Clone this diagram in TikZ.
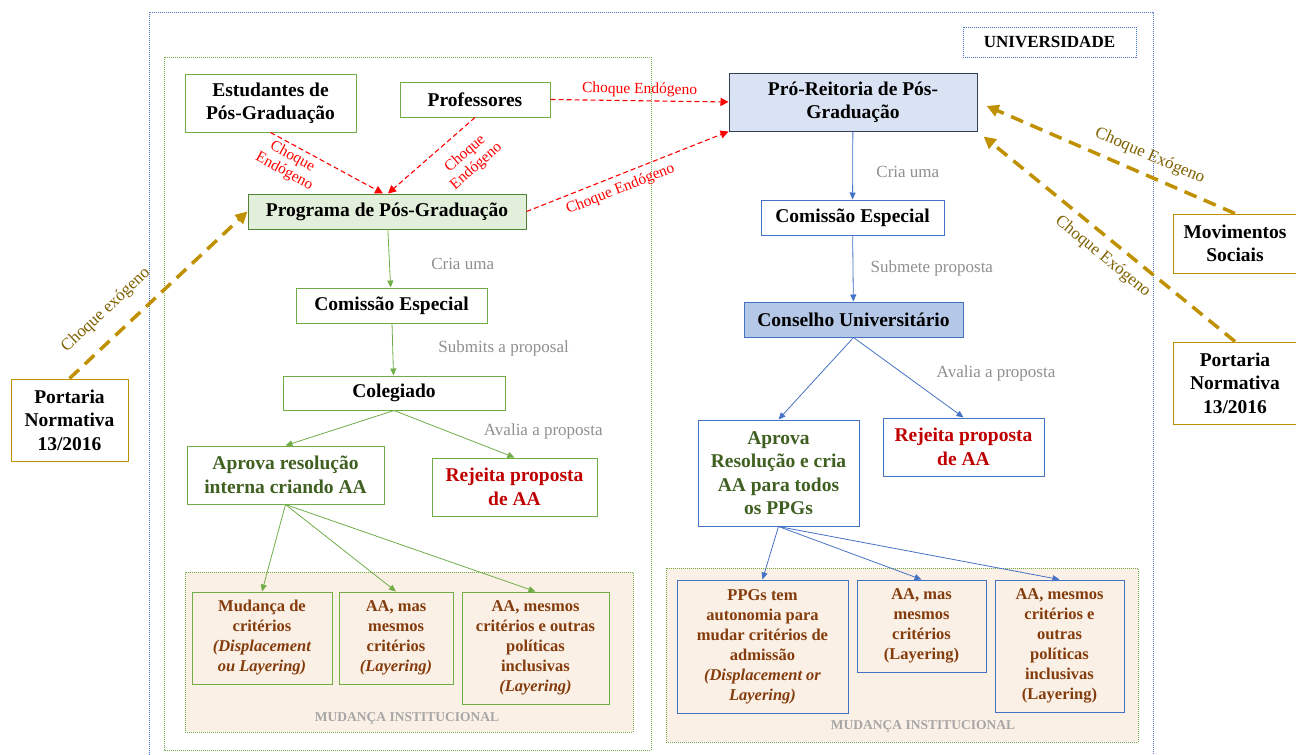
\documentclass[tikz,border=0pt]{standalone}
\usepackage{fontspec}
\setmainfont{Liberation Serif}
\usetikzlibrary{arrows.meta}
\definecolor{boxgreen}{HTML}{70AD47}
\definecolor{darkgreen}{HTML}{548235}
\definecolor{ppgfill}{HTML}{E2EFDA}
\definecolor{boxblue}{HTML}{4472C4}
\definecolor{prpgline}{HTML}{34405A}
\definecolor{prpgfill}{HTML}{DAE3F3}
\definecolor{consfill}{HTML}{B4C7E7}
\definecolor{gold}{HTML}{BF9000}
\definecolor{goldtext}{HTML}{7F6000}
\definecolor{labelgrey}{HTML}{8F8F8F}
\definecolor{aprtext}{HTML}{3F6020}
\definecolor{rejtext}{HTML}{C00000}
\definecolor{subtext}{HTML}{843C0C}
\definecolor{peach}{HTML}{FBF0E6}
\newcommand{\bigbf}{\bfseries\fontsize{19.5}{23.5}\selectfont}
\newcommand{\smallbf}{\bfseries\fontsize{16.5}{20}\selectfont}
\newcommand{\lblfont}{\fontsize{17}{20}\selectfont}
\newcommand{\chqfont}{\fontsize{15.5}{17}\selectfont}
\tikzstyle{gbox} = [draw=boxgreen, line width=1pt, fill=white, align=center, inner sep=0pt, font=\bigbf]
\tikzstyle{bbox} = [gbox, draw=boxblue]
\tikzstyle{ybox} = [gbox, draw=gold]
\tikzstyle{subbox} = [gbox, fill=peach, text=subtext, font=\smallbf]
\tikzstyle{frame} = [draw=boxgreen, dash pattern=on 1pt off 1pt, line width=1pt]
\tikzstyle{endo} = [draw=red, line width=1.1pt, dash pattern=on 5pt off 3pt, -{Triangle[length=8pt,width=8pt]}]
\tikzstyle{exo} = [draw=gold, line width=3.5pt, dash pattern=on 13pt off 8pt, -{Triangle[length=12pt,width=12pt]}]
\tikzstyle{flowg} = [draw=boxgreen, line width=0.8pt, -{Triangle[length=7pt,width=6pt]}]
\tikzstyle{flowb} = [flowg, draw=boxblue]
\tikzstyle{endolbl} = [text=red, font=\chqfont, align=center, sloped]
\tikzstyle{exolbl} = [text=goldtext, font=\lblfont, sloped]
\tikzstyle{steplbl} = [text=labelgrey, font=\lblfont]
\tikzstyle{mudlbl} = [text=black!35, font=\bfseries\fontsize{13.5}{15}\selectfont]

\begin{document}
\begin{tikzpicture}[x=1pt,y=-1pt]
    \useasboundingbox (0,0) rectangle (1296,755);
    % frames
    \draw[draw=boxblue, dash pattern=on 1pt off 1pt, line width=0.8pt] (149,755) -- (149,12) -- (1153,12) -- (1153,755);
    \draw[frame] (164,57) rectangle (651,750);
    \draw[frame, fill=peach] (185,572) rectangle (633,732);
    \draw[frame, fill=peach] (666,568) rectangle (1138,742);
    \draw (407,718) node[mudlbl] (mudL) {MUDANÇA INSTITUCIONAL};
    \draw (923,726) node[mudlbl] (mudR) {MUDANÇA INSTITUCIONAL};
    \draw (1049.5,42) node[draw=boxblue, dash pattern=on 1pt off 1pt, line width=0.8pt, minimum width=173pt, minimum height=30pt, font=\bfseries\fontsize{17}{20}\selectfont] (univ) {UNIVERSIDADE};

    % programa de pos-graduacao
    \draw (270.5,103) node[gbox, minimum width=171pt, minimum height=58pt] (estud) {Estudantes de\\Pós-Graduação};
    \draw (475,99.5) node[gbox, minimum width=150pt, minimum height=35pt] (prof) {Professores};
    \draw (387,211.5) node[gbox, draw=darkgreen, fill=ppgfill, minimum width=278pt, minimum height=35pt] (ppg) {Programa de Pós-Graduação};
    \draw (391.5,305.5) node[gbox, minimum width=191pt, minimum height=35pt] (comL) {Comissão Especial};
    \draw (394,393) node[gbox, minimum width=222pt, minimum height=34pt] (coleg) {Colegiado};
    \draw (285.5,475) node[gbox, text=aprtext, minimum width=197pt, minimum height=58pt] (aprL) {Aprova resolução\\interna criando AA};
    \draw (514.5,487) node[gbox, text=rejtext, minimum width=165pt, minimum height=58pt] (rejL) {Rejeita proposta\\de AA};
    \draw (262,638) node[subbox, minimum width=140pt, minimum height=92pt] (subL1) {Mudança de\\critérios\\\textit{(Displacement}\\\textit{ou Layering)}};
    \draw (396,638) node[subbox, minimum width=114pt, minimum height=92pt] (subL2) {AA, mas\\mesmos\\critérios\\\textit{(Layering)}};
    \draw (535.5,648) node[subbox, minimum width=147pt, minimum height=112pt] (subL3) {AA, mesmos\\critérios e outras\\políticas\\inclusivas\\\textit{(Layering)}};

    % pro-reitoria
    \draw (853,102) node[gbox, draw=prpgline, fill=prpgfill, minimum width=248pt, minimum height=58pt] (prpg) {Pró-Reitoria de Pós-\\Graduação};
    \draw (852.5,217.5) node[bbox, minimum width=183pt, minimum height=35pt] (comR) {Comissão Especial};
    \draw (853.5,319.5) node[bbox, fill=consfill, minimum width=219pt, minimum height=35pt] (cons) {Conselho Universitário};
    \draw (778.5,473) node[bbox, text=aprtext, minimum width=161pt, minimum height=106pt] (aprR) {Aprova\\Resolução e cria\\AA para todos\\os PPGs};
    \draw (963.5,447) node[bbox, text=rejtext, minimum width=161pt, minimum height=58pt] (rejR) {Rejeita proposta\\de AA};
    \draw (762.5,646.5) node[subbox, draw=boxblue, minimum width=171pt, minimum height=133pt] (subR1) {PPGs tem\\autonomia para\\mudar critérios de\\admissão\\\textit{(Displacement or}\\\textit{Layering)}};
    \draw (921.5,626) node[subbox, draw=boxblue, minimum width=129pt, minimum height=92pt] (subR2) {AA, mas\\mesmos\\critérios\\(Layering)};
    \draw (1059.5,646) node[subbox, draw=boxblue, minimum width=129pt, minimum height=132pt] (subR3) {AA, mesmos\\critérios e\\outras\\políticas\\inclusivas\\(Layering)};

    % externos
    \draw (69.5,420) node[ybox, minimum width=117pt, minimum height=82pt] (portL) {Portaria\\Normativa\\13/2016};
    \draw (1235,243.5) node[ybox, minimum width=123pt, minimum height=59pt] (movS) {Movimentos\\Sociais};
    \draw (1235,383) node[ybox, minimum width=124pt, minimum height=82pt] (portR) {Portaria\\Normativa\\13/2016};

    % choques endogenos
    \draw[endo] (estud.south) -- node[endolbl, below, pos=0.24] {Choque\\Endógeno} ([xshift=-4pt]ppg.north);
    \draw[endo] (prof.south) -- node[endolbl, below=10pt, pos=0.27] {Choque\\Endógeno} ([xshift=1pt]ppg.north);
    \draw[endo] (prof.east) -- node[endolbl, above] {Choque Endógeno} (prpg.west);
    \draw[endo] (ppg.east) -- node[endolbl, below=3pt, pos=0.44] {Choque Endógeno} (prpg.south west);

    % choques exogenos
    \draw[exo] (portL.north) -- node[exolbl, above=12pt, pos=0.3] {Choque exógeno} (ppg.west);
    \draw[exo, shorten >=10pt] (movS.north) -- node[exolbl, above=6pt, pos=0.36] {Choque Exógeno} (prpg.east);
    \draw[exo, shorten >=8pt] (portR.north) -- node[exolbl, below=5pt, pos=0.47] {Choque Exógeno} (prpg.south east);

    % fluxo programa
    \draw[flowg] (ppg) -- node[steplbl, right=38pt, pos=0.6] {Cria uma} (comL);
    \draw[flowg] (comL) -- node[steplbl, right=42pt, pos=0.48] {Submits a proposal} (coleg);
    \draw[flowg] (coleg.south) -- (aprL.north);
    \draw[flowg] (coleg.south) -- node[steplbl, right=32pt, pos=0.45] {Avalia a proposta} (rejL.north);
    \draw[flowg] (aprL.south) -- (subL1.north);
    \draw[flowg] (aprL.south) -- (subL2.north);
    \draw[flowg] (aprL.south) -- (subL3.north);

    % fluxo pro-reitoria
    \draw[flowb] (prpg) -- node[steplbl, right=20pt, pos=0.6] {Cria uma} (comR);
    \draw[flowb] (comR) -- node[steplbl, right=14pt, pos=0.5] {Submete proposta} (cons);
    \draw[flowb] (cons.south) -- (aprR.north);
    \draw[flowb] (cons.south) -- node[steplbl, right=30pt, pos=0.45] {Avalia a proposta} (rejR.north);
    \draw[flowb] (aprR.south) -- (subR1.north);
    \draw[flowb] (aprR.south) -- (subR2.north);
    \draw[flowb] (aprR.south) -- (subR3.north);
\end{tikzpicture}
\end{document}
